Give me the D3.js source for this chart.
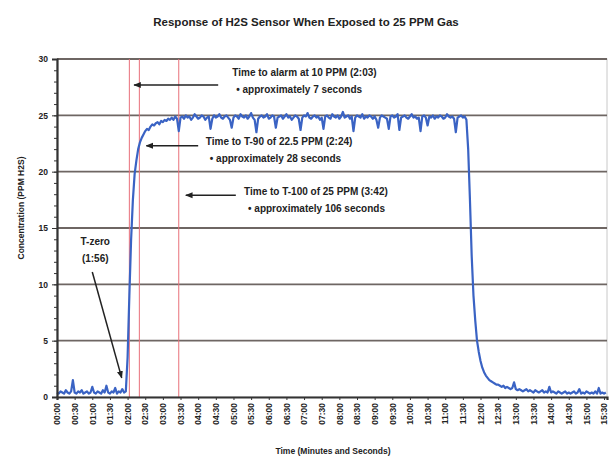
<!DOCTYPE html>
<html>
<head>
<meta charset="utf-8">
<script src="https://cdn.jsdelivr.net/npm/d3@7"></script>
<style>
    body { margin: 0; background: #fff; }
    text { font-family: 'Liberation Sans', Arial, sans-serif; font-weight: bold; fill: #222; }
</style>
</head>
<body>
<div class="chart"></div>
<script>
// отсчет каждые 3 секунды, значения в PPM
var sampleStep = 3
var ppmValues = [
    0.4,0.3,0.5,0.4,0.3,0.6,0.4,0.3,0.5,1.5,0.4,0.3,0.5,0.4,0.6,0.3,0.4,0.5,0.3,0.4,
    0.9,0.4,0.3,0.5,0.4,0.3,0.6,0.4,1.0,0.4,0.3,0.5,0.4,0.8,0.3,0.5,0.4,0.7,0.4,0.5,
    3.5,9.0,14.0,17.5,19.8,21.0,22.0,22.6,23.0,23.3,23.6,23.8,23.7,24.0,24.2,24.1,24.3,24.4,24.2,24.5,
    24.4,24.6,24.5,24.7,24.6,
    24.8,24.6,24.9,24.7,23.6,24.8,24.9,24.7,25.0,24.8,
    24.9,24.6,24.8,25.1,24.9,24.7,24.8,25.0,24.9,24.6,
    24.8,24.9,23.8,24.7,25.0,24.8,24.9,25.1,24.8,24.7,
    24.9,25.0,24.8,24.6,23.9,24.8,25.0,24.9,24.7,25.1,
    24.9,24.8,25.0,24.7,24.9,25.2,24.8,24.6,23.5,24.7,
    24.9,25.0,24.8,24.9,25.1,24.7,24.8,25.0,24.9,23.9,
    24.8,24.9,25.0,24.7,24.9,25.1,24.8,24.9,24.6,24.8,
    25.0,24.9,24.7,23.7,24.8,25.0,24.9,25.2,24.8,24.7,
    24.9,25.0,24.8,24.9,24.6,24.8,23.8,24.9,25.0,24.8,
    24.7,25.1,24.9,24.8,25.0,24.7,24.9,25.3,24.8,24.9,
    25.0,24.7,24.9,23.6,24.8,25.0,24.9,24.8,25.1,24.7,
    24.9,24.8,25.0,24.9,24.7,24.9,24.6,23.9,24.8,25.0,
    24.9,24.8,24.7,23.8,24.9,25.0,24.8,24.9,25.1,23.7,
    24.8,24.9,25.0,24.8,24.7,24.9,25.1,24.8,24.9,24.7,
    24.8,23.6,24.9,25.0,24.8,24.1,24.9,24.8,25.0,24.7,
    24.9,24.8,25.0,24.9,24.7,24.8,25.1,24.9,24.8,24.9,
    24.7,23.5,24.8,24.9,25.0,24.8,24.9,
    24.6,22.0,17.5,12.5,9.0,6.8,5.0,4.0,3.2,2.6,
    2.2,1.9,1.7,1.5,1.4,1.3,1.2,1.1,1.1,1.0,
    0.9,1.0,0.8,0.9,0.8,0.7,0.8,1.3,0.7,0.6,
    0.7,0.6,0.5,0.6,0.7,0.5,0.6,0.5,0.4,0.6,
    0.5,0.4,0.5,0.6,0.4,0.5,0.4,0.9,0.4,0.5,
    0.4,0.3,0.5,0.4,0.3,0.4,0.5,0.3,0.4,0.3,
    0.4,0.5,0.3,0.4,0.7,0.3,0.4,0.3,0.5,0.4,
    0.3,0.4,0.3,0.5,0.3,0.8,0.3,0.4,0.3,0.4
]

// метки оси Y и X (секунды, шаг 30)
var yTicks = [0, 5, 10, 15, 20, 25, 30]
var xTickSeconds = d3.range(0, 931, 30)

// красные вертикальные линии (секунды)
var markerTimes = [123, 140, 207]

// подписи со стрелками: t0 -> t1 на уровне v, текст в tx / tv
var annotations = [
    { t0: 274, t1: 131, v: 27.7, tx: 298, tv: 28.5, lines: ['Time to alarm at 10 PPM (2:03)', '\u2022 approximately 7 seconds'] },
    { t0: 240, t1: 152, v: 22.3, tx: 253, tv: 22.4, lines: ['Time to T-90 of 22.5 PPM  (2:24)', '\u2022 approximately 28 seconds'] },
    { t0: 304, t1: 219, v: 17.9, tx: 318, tv: 17.9, lines: ['Time to T-100 of 25 PPM (3:42)', '\u2022 approximately 106 seconds'] }
]
var tZero = { label: ['T-zero', '(1:56)'], tx: 65, tv: 13.5, t0: 60, v0: 11.1, t1: 110, v1: 1.7 }

var svgWidth = 614,
    svgHeight = 462,
    plotLeft = 57,
    plotRight = 607,
    plotTop = 59,
    plotBottom = 397,
    gridColor = '#6e6663',
    lineColor = '#3a63c4'

var data = ppmValues.map(function (v, i) {
    return { t: i * sampleStep, v: v }
})

var svg = d3
    .select('.chart')
    .append('svg')
    .attr('width', svgWidth)
    .attr('height', svgHeight)

svg.append('defs')
    .append('marker')
    .attr('id', 'arrow')
    .attr('viewBox', '0 0 10 10')
    .attr('refX', 9)
    .attr('refY', 5)
    .attr('markerWidth', 5)
    .attr('markerHeight', 5)
    .attr('orient', 'auto')
    .append('path')
    .attr('d', 'M0,1 L10,5 L0,9 Z')
    .attr('fill', '#222')

var x = d3.scaleLinear().domain([0, 935]).range([plotLeft, plotRight])
var y = d3.scaleLinear().domain([0, 30]).range([plotBottom, plotTop])

// заголовок
svg.append('text')
    .attr('x', 306)
    .attr('y', 26)
    .attr('text-anchor', 'middle')
    .style('font-size', '11.5px')
    .text('Response of H2S Sensor When Exposed to 25 PPM Gas')

// рамка графика
svg.append('rect')
    .attr('x', plotLeft)
    .attr('y', plotTop)
    .attr('width', plotRight - plotLeft)
    .attr('height', plotBottom - plotTop)
    .attr('fill', '#fff')
    .attr('stroke', '#c8c8c8')

// сетка
svg.append('g')
    .selectAll('line')
    .data(yTicks.filter(function (d) { return d > 0 }))
    .enter()
    .append('line')
    .attr('x1', plotLeft)
    .attr('x2', plotRight)
    .attr('y1', function (d) { return y(d) })
    .attr('y2', function (d) { return y(d) })
    .style('stroke', gridColor)
    .style('stroke-width', 1.8)

// красные линии
svg.append('g')
    .selectAll('line')
    .data(markerTimes)
    .enter()
    .append('line')
    .attr('x1', function (d) { return x(d) })
    .attr('x2', function (d) { return x(d) })
    .attr('y1', plotTop)
    .attr('y2', plotBottom)
    .style('stroke', '#e8707a')
    .style('stroke-width', 1)

// линия данных
svg.append('path')
    .datum(data)
    .attr('fill', 'none')
    .attr('stroke', lineColor)
    .attr('stroke-width', 2.2)
    .attr('stroke-linejoin', 'round')
    .attr('d', d3.line()
        .x(function (d) { return x(d.t) })
        .y(function (d) { return y(d.v) }))

// ось Y с мелкими делениями
var yMinor = svg.append('g')
    .attr('transform', 'translate(' + plotLeft + ',0)')
    .call(d3.axisLeft(y).ticks(30).tickSize(3).tickFormat(''))
yMinor.select('.domain').remove()
yMinor.selectAll('line').attr('stroke', '#333')

var yAxis = svg.append('g')
    .attr('transform', 'translate(' + plotLeft + ',0)')
    .call(d3.axisLeft(y).tickValues(yTicks).tickSize(5).tickPadding(4))
yAxis.select('.domain').attr('stroke', '#333').attr('stroke-width', 2.2)
yAxis.selectAll('.tick line').attr('stroke', '#333')
yAxis.selectAll('.tick text').style('font-size', '8.5px').attr('fill', '#333')

// ось X
var fmt = function (s) {
    return d3.format('02d')(Math.floor(s / 60)) + ':' + d3.format('02d')(s % 60)
}
var xAxis = svg.append('g')
    .attr('transform', 'translate(0,' + plotBottom + ')')
    .call(d3.axisBottom(x).tickValues(xTickSeconds).tickSize(3).tickFormat(fmt))
xAxis.select('.domain').attr('stroke', '#333').attr('stroke-width', 2.2)
xAxis.selectAll('.tick line').attr('stroke', '#333')
xAxis.selectAll('.tick text')
    .attr('transform', 'rotate(-90)')
    .attr('text-anchor', 'end')
    .attr('x', -6)
    .attr('y', 0)
    .attr('dy', '0.32em')
    .style('font-size', '8.5px')
    .attr('fill', '#333')

// подписи осей
svg.append('text')
    .attr('transform', 'translate(24,' + 208 + ') rotate(-90)')
    .attr('text-anchor', 'middle')
    .style('font-size', '8.5px')
    .text('Concentration (PPM H2S)')

svg.append('text')
    .attr('x', 333)
    .attr('y', 454)
    .attr('text-anchor', 'middle')
    .style('font-size', '8.5px')
    .text('Time (Minutes and Seconds)')

// аннотации
annotations.forEach(function (a) {
    svg.append('line')
        .attr('x1', x(a.t0))
        .attr('x2', x(a.t1))
        .attr('y1', y(a.v))
        .attr('y2', y(a.v))
        .style('stroke', '#222')
        .style('stroke-width', 1.5)
        .attr('marker-end', 'url(#arrow)')
    svg.append('text')
        .attr('x', x(a.tx))
        .attr('y', y(a.tv))
        .attr('dy', '0.35em')
        .style('font-size', '10px')
        .selectAll('tspan')
        .data(a.lines)
        .enter()
        .append('tspan')
        .attr('x', function (d, i) { return x(a.tx) + (i ? 4 : 0) })
        .attr('dy', function (d, i) { return i ? 17 : 0 })
        .text(function (d) { return d })
})

// T-zero
svg.append('text')
    .attr('x', x(tZero.tx))
    .attr('y', y(tZero.tv))
    .attr('dy', '0.35em')
    .attr('text-anchor', 'middle')
    .style('font-size', '10px')
    .selectAll('tspan')
    .data(tZero.label)
    .enter()
    .append('tspan')
    .attr('x', x(tZero.tx))
    .attr('dy', function (d, i) { return i ? 17 : 0 })
    .text(function (d) { return d })

svg.append('line')
    .attr('x1', x(tZero.t0))
    .attr('y1', y(tZero.v0))
    .attr('x2', x(tZero.t1))
    .attr('y2', y(tZero.v1))
    .style('stroke', '#222')
    .style('stroke-width', 1.5)
    .attr('marker-end', 'url(#arrow)')
</script>
</body>
</html>
